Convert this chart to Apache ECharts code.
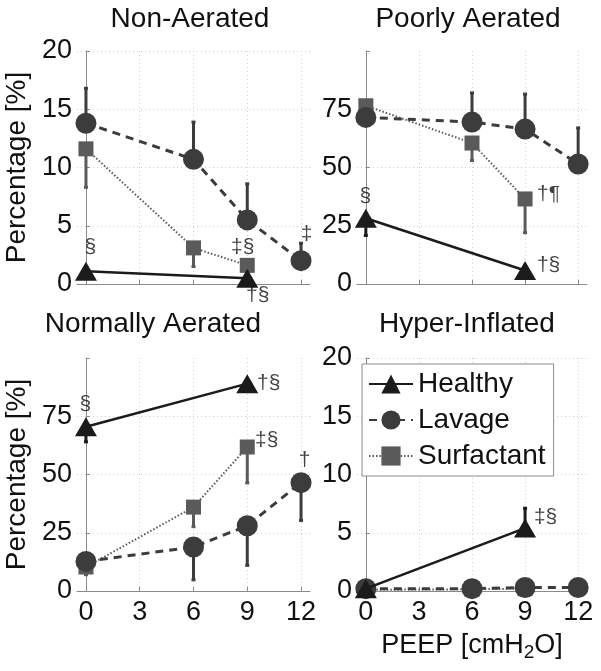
<!DOCTYPE html>
<html>
<head>
    <meta charset="utf-8">
    <script src="https://cdn.jsdelivr.net/npm/echarts@6/dist/echarts.min.js"></script>
    <style>body{margin:0;background:#fff;}</style>
</head>
<body>
    <div id="main" style="width: 601px;height:671px;"></div>
    <script type="text/javascript">

    // PEEP levels
    var peepLavage = [0, 6, 9, 12];
    var peepHealthy = [0, 9];
    var peepSurf = [0, 6, 9];
    var xTicks = [0, 3, 6, 9, 12];

    // Non-Aerated
    var nonHealthy = [1.1, 0.5];
    var nonHealthyErr = [null, null];
    var nonLavage = [13.8, 10.7, 5.5, 2.0];
    var nonLavageErr = [16.8, 13.9, 8.6, 3.5];
    var nonSurf = [11.6, 3.1, 1.6];
    var nonSurfErr = [8.3, 1.5, null];

    // Poorly Aerated
    var poorHealthy = [28.2, 5.8];
    var poorHealthyErr = [20.8, null];
    var poorLavage = [71.5, 69.5, 66.5, 51.5];
    var poorLavageErr = [null, 82, 81.5, 67];
    var poorSurf = [76.5, 60.5, 36.5];
    var poorSurfErr = [null, 53, 22];

    // Normally Aerated
    var normHealthy = [70.5, 89];
    var normHealthyErr = [64, null];
    var normLavage = [12.7, 18.9, 28, 46.5];
    var normLavageErr = [null, 4.8, 11, 30.3];
    var normSurf = [10.3, 36, 61.8];
    var normSurfErr = [7, 27.6, 46.4];

    // Hyper-Inflated
    var hypHealthy = [0.2, 5.4];
    var hypHealthyErr = [null, 7.1];
    var hypLavage = [0.2, 0.2, 0.3, 0.3];
    var hypLavageErr = [null, null, null, null];
    var hypSurf = [0.1, 0.15, 0.2];
    var hypSurfErr = [null, null, null];

    // significance marks: [peep, value, text]
    var nonMarks = [[0, 1.1, '§'], [9, 1.6, '‡§'], [9, 0.5, '†§'], [12, 2.0, '‡']];
    var poorMarks = [[0, 28.2, '§'], [9, 36.5, '†¶'], [9, 5.8, '†§']];
    var normMarks = [[0, 70.5, '§'], [9, 89, '†§'], [9, 61.8, '‡§'], [12, 46.5, '†']];
    var hypMarks = [[9, 5.4, '‡§']];
    // pixel offsets of the marks from their point
    var nonMarkOff = [[5, -23], [-4, -18], [11, 18], [6, -26]];
    var poorMarkOff = [[0, -22], [24, -4], [24, -5]];
    var normMarkOff = [[0, -22], [22, 0], [20, -6], [4, -22]];
    var hypMarkOff = [[21, -10]];

    var colHealthy = '#1b1b1b', colLavage = '#3c3c3c', colSurf = '#5a5a5a';
    var font = 'Liberation Sans, Arial, sans-serif';

    var panels = [
        {title: 'Non-Aerated', tx: 190, ty: 5, max: 20, step: 5,
         h: nonHealthy, he: nonHealthyErr, l: nonLavage, le: nonLavageErr, s: nonSurf, se: nonSurfErr,
         marks: nonMarks, off: nonMarkOff,
         grid: {left: 77, top: 51, width: 233, height: 233}, yname: true, xlab: false},
        {title: 'Poorly Aerated', tx: 468, ty: 5, max: 100, step: 25,
         h: poorHealthy, he: poorHealthyErr, l: poorLavage, le: poorLavageErr, s: poorSurf, se: poorSurfErr,
         marks: poorMarks, off: poorMarkOff,
         grid: {left: 357, top: 51, width: 230, height: 233}, yname: false, xlab: false},
        {title: 'Normally Aerated', tx: 153, ty: 310, max: 100, step: 25,
         h: normHealthy, he: normHealthyErr, l: normLavage, le: normLavageErr, s: normSurf, se: normSurfErr,
         marks: normMarks, off: normMarkOff,
         grid: {left: 77, top: 358, width: 233, height: 233}, yname: true, xlab: true},
        {title: 'Hyper-Inflated', tx: 467, ty: 310, max: 20, step: 5,
         h: hypHealthy, he: hypHealthyErr, l: hypLavage, le: hypLavageErr, s: hypSurf, se: hypSurfErr,
         marks: hypMarks, off: hypMarkOff,
         grid: {left: 357, top: 358, width: 230, height: 233}, yname: false, xlab: true, xname: true}
    ];

    function pairs(xs, ys) {
        return xs.map(function (x, i) { return [x, ys[i]]; });
    }

    function bars(xs, ys, es) {
        var out = [];
        xs.forEach(function (x, i) {
            if (es[i] != null) out.push([x, ys[i], es[i]]);
        });
        return out;
    }

    function errorSeries(idx, data, color, z) {
        return {
            type: 'custom', xAxisIndex: idx, yAxisIndex: idx, z: z,
            silent: true,
            encode: {x: 0, y: [1, 2]},
            data: data,
            renderItem: function (params, api) {
                var a = api.coord([api.value(0), api.value(1)]);
                var b = api.coord([api.value(0), api.value(2)]);
                return {
                    type: 'group',
                    children: [
                        {type: 'line', shape: {x1: a[0], y1: a[1], x2: b[0], y2: b[1]},
                         style: {stroke: color, lineWidth: 3}},
                        {type: 'line', shape: {x1: b[0] - 2, y1: b[1], x2: b[0] + 2, y2: b[1]},
                         style: {stroke: color, lineWidth: 3}}
                    ]
                };
            }
        };
    }

    var grids = [], xAxes = [], yAxes = [], series = [], graphics = [];

    panels.forEach(function (p, i) {
        grids.push(p.grid);
        graphics.push({
            type: 'text', x: p.tx, y: p.ty,
            style: {text: p.title, font: '28px ' + font, fill: '#111', align: 'center'}
        });
        xAxes.push({
            type: 'value', gridIndex: i, min: -0.5, max: 12.5,
            axisLine: {show: true, onZero: false, lineStyle: {color: '#8a8a8a', width: 1}},
            axisTick: {show: true, inside: true, length: 4, customValues: xTicks,
                       lineStyle: {color: '#8a8a8a'}},
            axisLabel: {show: p.xlab, customValues: xTicks, fontSize: 27, color: '#111',
                        fontFamily: font, margin: 8},
            splitLine: {show: true, lineStyle: {color: '#cfcfcf', type: [1, 3], width: 1}},
            name: p.xname ? 'PEEP [cmH{sub|2}O]' : '',
            nameLocation: 'middle', nameGap: 38,
            nameTextStyle: {fontSize: 27, color: '#111', fontFamily: font,
                rich: {sub: {fontSize: 19, verticalAlign: 'bottom', padding: [14, 0, 0, 0],
                             color: '#111', fontFamily: font}}}
        });
        yAxes.push({
            type: 'value', gridIndex: i, min: 0, max: p.max, interval: p.step,
            axisLine: {show: true, lineStyle: {color: '#8a8a8a', width: 1}},
            axisTick: {show: true, inside: true, length: 4, lineStyle: {color: '#8a8a8a'}},
            axisLabel: {fontSize: 27, color: '#111', fontFamily: font, margin: 5,
                formatter: function (v) { return v === 100 ? '' : v; }},
            splitLine: {show: true, showMaxLine: p.max === 20,
                        lineStyle: {color: '#cfcfcf', type: [1, 3], width: 1}},
            name: p.yname ? 'Percentage [%]' : '',
            nameLocation: 'middle', nameGap: 46,
            nameTextStyle: {fontSize: 28, color: '#111', fontFamily: font}
        });

        // error bars below markers
        series.push(errorSeries(i, bars(peepSurf, p.s, p.se), colSurf, 2));
        series.push(errorSeries(i, bars(peepLavage, p.l, p.le), colLavage, 2));
        series.push(errorSeries(i, bars(peepHealthy, p.h, p.he), colHealthy, 2));

        series.push({
            name: 'Surfactant', type: 'line', xAxisIndex: i, yAxisIndex: i, z: 3,
            data: pairs(peepSurf, p.s),
            symbol: 'rect', symbolSize: 15,
            lineStyle: {color: colSurf, width: 2, type: [1.5, 2]},
            itemStyle: {color: colSurf}
        });
        series.push({
            name: 'Lavage', type: 'line', xAxisIndex: i, yAxisIndex: i, z: 4,
            data: pairs(peepLavage, p.l),
            symbol: 'circle', symbolSize: 21,
            lineStyle: {color: colLavage, width: 3, type: [8, 6]},
            itemStyle: {color: colLavage}
        });
        series.push({
            name: 'Healthy', type: 'line', xAxisIndex: i, yAxisIndex: i, z: 5,
            data: pairs(peepHealthy, p.h),
            symbol: 'triangle', symbolSize: [22, 19],
            lineStyle: {color: colHealthy, width: 2.5},
            itemStyle: {color: colHealthy}
        });

        // significance marks
        series.push({
            type: 'scatter', xAxisIndex: i, yAxisIndex: i, z: 6, silent: true,
            symbolSize: 1, itemStyle: {color: 'rgba(0,0,0,0)'},
            data: p.marks.map(function (m, k) {
                return {
                    value: [m[0], m[1]],
                    label: {show: true, formatter: m[2], position: p.off[k],
                            align: 'center', verticalAlign: 'middle',
                            fontSize: 21, color: '#111', fontFamily: font}
                };
            })
        });
    });

    var myChart = echarts.init(document.getElementById('main'));

    myChart.setOption({
        animation: false,
        backgroundColor: '#fff',
        grid: grids,
        xAxis: xAxes,
        yAxis: yAxes,
        legend: {
            data: ['Healthy', 'Lavage', 'Surfactant'],
            orient: 'vertical',
            left: 362, top: 364,
            padding: [6, 8, 6, 6],
            itemGap: 8,
            itemWidth: 44, itemHeight: 24,
            backgroundColor: '#fff',
            borderColor: '#8a8a8a', borderWidth: 1,
            textStyle: {fontSize: 28, color: '#111', fontFamily: font}
        },
        graphic: graphics,
        series: series
    });

</script>
</body>
</html>
